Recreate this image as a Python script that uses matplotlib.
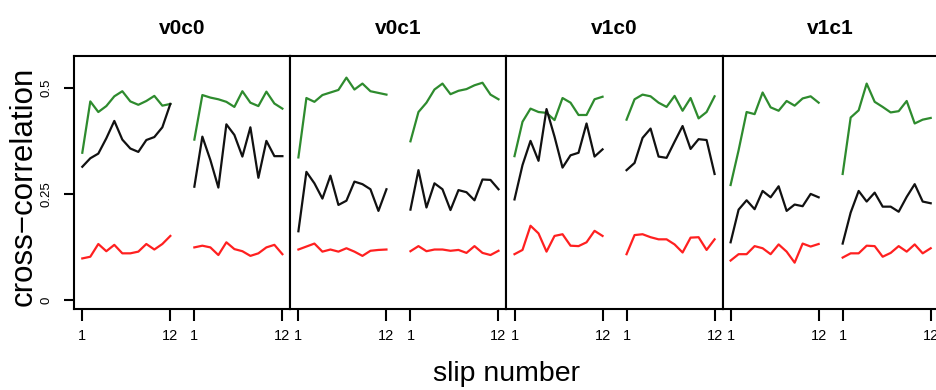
import matplotlib
matplotlib.use("Agg")
import matplotlib.pyplot as plt

plt.rcParams["font.family"] = ["Liberation Sans", "DejaVu Sans"]

panels = ["v0c0", "v0c1", "v1c0", "v1c1"]
slips = list(range(1, 13))
tick_labels = ["1", "12"]
yticks = [0, 0.25, 0.5]
ytick_labels = ["0", "0.25", "0.5"]

# v0c0
v0c0_green_1 = [0.347, 0.468, 0.443, 0.457, 0.480, 0.492, 0.468, 0.460, 0.469, 0.481, 0.458, 0.462]
v0c0_black_1 = [0.314, 0.334, 0.345, 0.381, 0.422, 0.378, 0.357, 0.349, 0.377, 0.384, 0.407, 0.462]
v0c0_red_1 = [0.098, 0.102, 0.132, 0.115, 0.130, 0.110, 0.110, 0.114, 0.132, 0.119, 0.132, 0.151]
v0c0_green_2 = [0.378, 0.483, 0.477, 0.473, 0.467, 0.455, 0.492, 0.465, 0.457, 0.491, 0.463, 0.451]
v0c0_black_2 = [0.267, 0.385, 0.330, 0.265, 0.414, 0.389, 0.338, 0.407, 0.288, 0.375, 0.339, 0.339]
v0c0_red_2 = [0.124, 0.128, 0.124, 0.106, 0.136, 0.120, 0.115, 0.104, 0.110, 0.124, 0.130, 0.108]

# v0c1
v0c1_green_1 = [0.336, 0.476, 0.467, 0.483, 0.489, 0.495, 0.524, 0.496, 0.510, 0.492, 0.488, 0.484]
v0c1_black_1 = [0.162, 0.302, 0.275, 0.239, 0.293, 0.224, 0.234, 0.279, 0.273, 0.261, 0.210, 0.261]
v0c1_red_1 = [0.119, 0.126, 0.133, 0.114, 0.119, 0.114, 0.122, 0.114, 0.104, 0.116, 0.118, 0.119]
v0c1_green_2 = [0.374, 0.443, 0.465, 0.496, 0.510, 0.485, 0.493, 0.497, 0.506, 0.512, 0.484, 0.473]
v0c1_black_2 = [0.213, 0.306, 0.218, 0.275, 0.261, 0.212, 0.259, 0.254, 0.235, 0.284, 0.283, 0.261]
v0c1_red_2 = [0.115, 0.127, 0.115, 0.119, 0.119, 0.116, 0.118, 0.111, 0.127, 0.111, 0.106, 0.116]

# v1c0
v1c0_green_1 = [0.339, 0.420, 0.451, 0.443, 0.441, 0.424, 0.476, 0.465, 0.436, 0.436, 0.473, 0.479]
v1c0_black_1 = [0.237, 0.318, 0.375, 0.328, 0.450, 0.385, 0.312, 0.341, 0.347, 0.416, 0.338, 0.355]
v1c0_red_1 = [0.108, 0.118, 0.175, 0.157, 0.114, 0.151, 0.155, 0.128, 0.127, 0.136, 0.163, 0.151]
v1c0_green_2 = [0.425, 0.473, 0.484, 0.480, 0.465, 0.455, 0.481, 0.446, 0.476, 0.428, 0.443, 0.480]
v1c0_black_2 = [0.306, 0.323, 0.382, 0.404, 0.338, 0.335, 0.373, 0.410, 0.356, 0.379, 0.377, 0.297]
v1c0_red_2 = [0.108, 0.153, 0.155, 0.148, 0.143, 0.143, 0.131, 0.112, 0.147, 0.148, 0.118, 0.143]

# v1c1
v1c1_green_1 = [0.271, 0.353, 0.443, 0.438, 0.489, 0.454, 0.446, 0.469, 0.458, 0.475, 0.480, 0.465]
v1c1_black_1 = [0.136, 0.213, 0.235, 0.214, 0.257, 0.242, 0.268, 0.210, 0.225, 0.221, 0.250, 0.242]
v1c1_red_1 = [0.093, 0.108, 0.108, 0.127, 0.122, 0.108, 0.131, 0.114, 0.088, 0.133, 0.126, 0.132]
v1c1_green_2 = [0.297, 0.430, 0.447, 0.510, 0.467, 0.455, 0.442, 0.445, 0.469, 0.416, 0.425, 0.429]
v1c1_black_2 = [0.133, 0.206, 0.257, 0.232, 0.253, 0.220, 0.220, 0.208, 0.243, 0.273, 0.232, 0.228]
v1c1_red_2 = [0.100, 0.110, 0.110, 0.128, 0.127, 0.102, 0.111, 0.127, 0.114, 0.131, 0.110, 0.122]

series = {
    "v0c0": [(v0c0_green_1, v0c0_green_2), (v0c0_black_1, v0c0_black_2), (v0c0_red_1, v0c0_red_2)],
    "v0c1": [(v0c1_green_1, v0c1_green_2), (v0c1_black_1, v0c1_black_2), (v0c1_red_1, v0c1_red_2)],
    "v1c0": [(v1c0_green_1, v1c0_green_2), (v1c0_black_1, v1c0_black_2), (v1c0_red_1, v1c0_red_2)],
    "v1c1": [(v1c1_green_1, v1c1_green_2), (v1c1_black_1, v1c1_black_2), (v1c1_red_1, v1c1_red_2)],
}
colors = ["#2e8b2e", "#111111", "#ff2020"]

W, H = 936, 390
fig = plt.figure(figsize=(W / 100, H / 100), dpi=100)

left0, pw = 74.3, 216.1
top, bottom = 56, 308.5
offset = 14  # second block of slips drawn after a gap

for i, name in enumerate(panels):
    ax = fig.add_axes([(left0 + i * pw) / W, 1 - bottom / H, pw / W, (bottom - top) / H])
    for col, (a, b) in zip(colors, series[name]):
        ax.plot(slips, a, color=col, lw=1.6)
        ax.plot([s + offset for s in slips], b, color=col, lw=1.6)
    ax.set_xlim(0, 27)
    ax.set_ylim(-0.020, 0.575)
    ax.set_xticks([1, 12, 1 + offset, 12 + offset])
    ax.set_xticklabels(tick_labels * 2, fontsize=10.5)
    ax.tick_params(axis="x", length=8.5, width=1.5, pad=6)
    if i == 0:
        ax.set_yticks(yticks)
        ax.set_yticklabels(ytick_labels, fontsize=9.5, rotation=90, va="center")
        ax.tick_params(axis="y", length=7.5, width=1.5, pad=8)
    else:
        ax.set_yticks([])
    for sp in ax.spines.values():
        sp.set_linewidth(1.5)
    ax.set_title(name, fontsize=15, fontweight="bold", pad=16)

fig.text(24 / W, 1 - 186 / H, "cross\u2212correlation", rotation=90, fontsize=22.5,
         ha="center", va="center")
fig.text(507 / W, 1 - 374 / H, "slip number", fontsize=20.5, ha="center", va="center")

fig.savefig("out.png", dpi=100)
